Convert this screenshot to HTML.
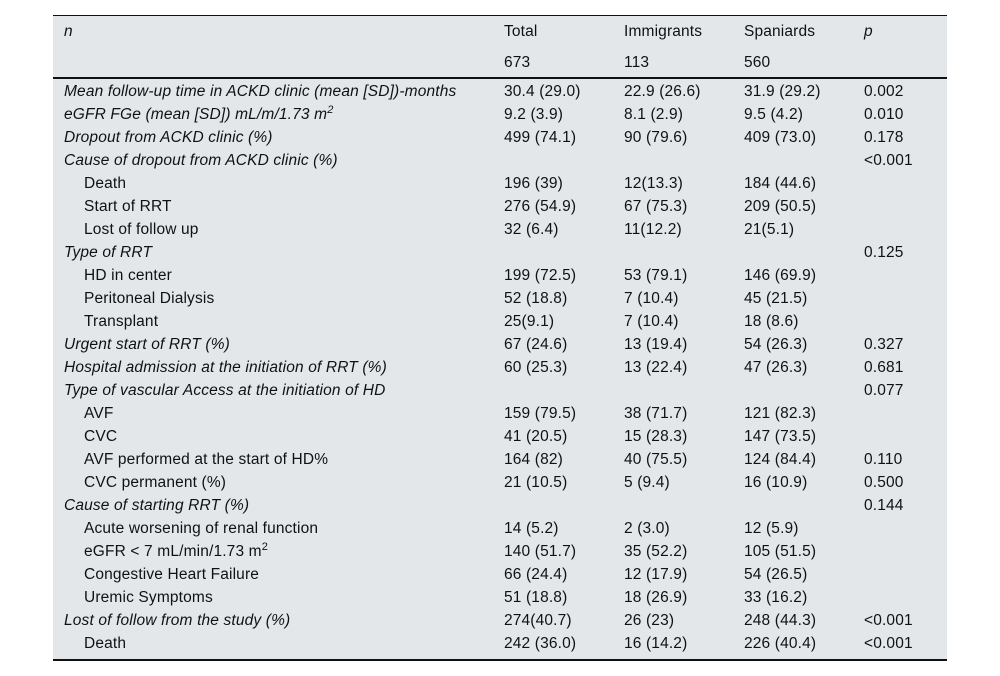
<!DOCTYPE html><html><head><style>
body{margin:0;width:1000px;height:676px;background:#fff;font-family:"Liberation Sans",sans-serif;font-size:15.5px;letter-spacing:0.15px;color:#111;position:relative;overflow:hidden}
.bg{position:absolute;left:53px;top:16px;width:894px;height:644px;background:#e3e7ea}
.l{position:absolute;left:53px;width:894px;background:#111}
.t{position:absolute;white-space:nowrap;line-height:16px}
i{font-style:italic}
sup{font-size:11px;vertical-align:6px;line-height:0}
</style></head><body>
<div class="bg"></div>
<div class="l" style="top:15px;height:1px"></div>
<div class="l" style="top:77px;height:2px"></div>
<div class="l" style="top:659px;height:2px"></div>
<div id="c"></div>
<script>
var rows=[
[23,"<i>n</i>",0,"Total","Immigrants","Spaniards","<i>p</i>"],
[54,"",0,"673","113","560",""],
[83,"Mean follow-up time in ACKD clinic (mean [SD])-months",0,"30.4 (29.0)","22.9 (26.6)","31.9 (29.2)","0.002"],
[106,"eGFR FGe (mean [SD]) mL/m/1.73 m<sup>2</sup>",0,"9.2 (3.9)","8.1 (2.9)","9.5 (4.2)","0.010"],
[129,"Dropout from ACKD clinic (%)",0,"499 (74.1)","90 (79.6)","409 (73.0)","0.178"],
[152,"Cause of dropout from ACKD clinic (%)",0,"","","","&lt;0.001"],
[175,"Death",1,"196 (39)","12(13.3)","184 (44.6)",""],
[198,"Start of RRT",1,"276 (54.9)","67 (75.3)","209 (50.5)",""],
[221,"Lost of follow up",1,"32 (6.4)","11(12.2)","21(5.1)",""],
[244,"Type of RRT",0,"","","","0.125"],
[267,"HD in center",1,"199 (72.5)","53 (79.1)","146 (69.9)",""],
[290,"Peritoneal Dialysis",1,"52 (18.8)","7 (10.4)","45 (21.5)",""],
[313,"Transplant",1,"25(9.1)","7 (10.4)","18 (8.6)",""],
[336,"Urgent start of RRT (%)",0,"67 (24.6)","13 (19.4)","54 (26.3)","0.327"],
[359,"Hospital admission at the initiation of RRT (%)",0,"60 (25.3)","13 (22.4)","47 (26.3)","0.681"],
[382,"Type of vascular Access at the initiation of HD",0,"","","","0.077"],
[405,"AVF",1,"159 (79.5)","38 (71.7)","121 (82.3)",""],
[428,"CVC",1,"41 (20.5)","15 (28.3)","147 (73.5)",""],
[451,"AVF performed at the start of HD%",1,"164 (82)","40 (75.5)","124 (84.4)","0.110"],
[474,"CVC permanent (%)",1,"21 (10.5)","5 (9.4)","16 (10.9)","0.500"],
[497,"Cause of starting RRT (%)",0,"","","","0.144"],
[520,"Acute worsening of renal function",1,"14 (5.2)","2 (3.0)","12 (5.9)",""],
[543,"eGFR &lt; 7 mL/min/1.73 m<sup>2</sup>",1,"140 (51.7)","35 (52.2)","105 (51.5)",""],
[566,"Congestive Heart Failure",1,"66 (24.4)","12 (17.9)","54 (26.5)",""],
[589,"Uremic Symptoms",1,"51 (18.8)","18 (26.9)","33 (16.2)",""],
[612,"Lost of follow from the study (%)",0,"274(40.7)","26 (23)","248 (44.3)","&lt;0.001"],
[635,"Death",1,"242 (36.0)","16 (14.2)","226 (40.4)","&lt;0.001"]];
var h="",xs=[504,624,744,864];
rows.forEach(function(r,k){var lab=r[1];if(k>=2&&!r[2])lab="<i>"+lab+"</i>";var y=r[0]+1;
h+='<div class="t" style="top:'+y+'px;left:'+(r[2]?84:64)+'px">'+lab+'</div>';
for(var j=0;j<4;j++)if(r[3+j])h+='<div class="t" style="top:'+y+'px;left:'+xs[j]+'px">'+r[3+j]+'</div>';});
document.getElementById("c").innerHTML=h;
</script>
</body></html>
